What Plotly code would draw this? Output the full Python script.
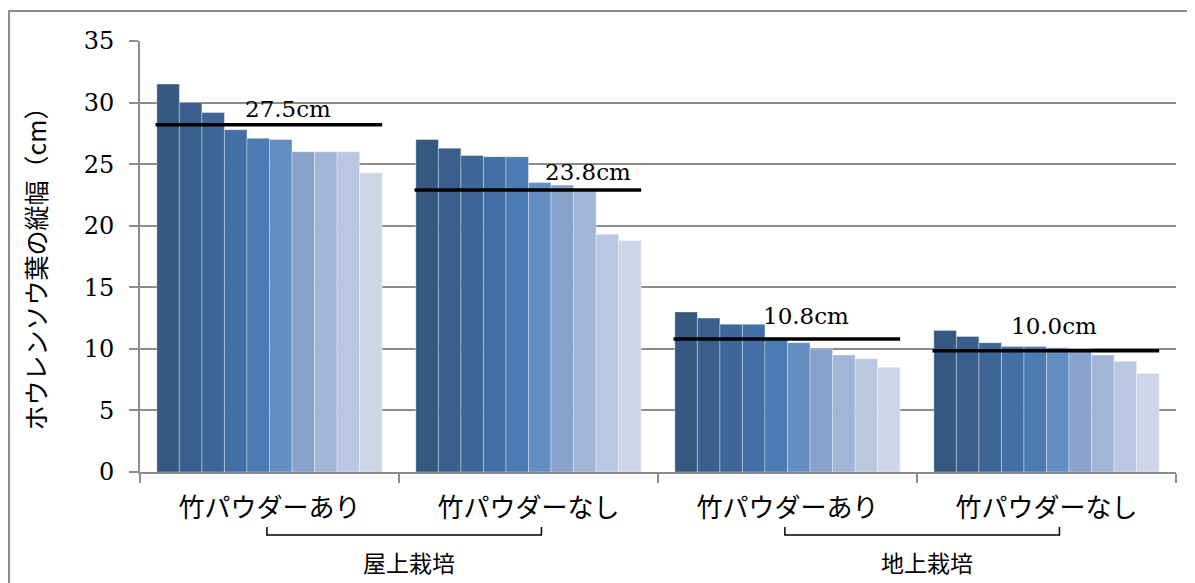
import plotly.graph_objects as go

categories = ['竹パウダーあり', '竹パウダーなし', '竹パウダーあり', '竹パウダーなし']
groups = ['屋上栽培', '地上栽培']
# values per category, sorted plant ranks (10 plants each)
g_roof_with = [31.5, 30.0, 29.2, 27.8, 27.1, 27.0, 26.0, 26.0, 26.0, 24.3]
g_roof_without = [27.0, 26.3, 25.7, 25.6, 25.6, 23.5, 23.3, 22.9, 19.3, 18.8]
g_ground_with = [13.0, 12.5, 12.0, 12.0, 10.9, 10.5, 10.0, 9.5, 9.2, 8.5]
g_ground_without = [11.5, 11.0, 10.5, 10.2, 10.2, 10.1, 10.0, 9.5, 9.0, 8.0]
mean_labels = ['27.5cm', '23.8cm', '10.8cm', '10.0cm']
mean_line = [28.2, 22.9, 10.8, 9.85]
y_ticks = [0, 5, 10, 15, 20, 25, 30, 35]

colors = ['#34587f', '#3a5e8d', '#3e6798', '#4270a6', '#4a7bb3',
          '#648dc2', '#87a2cb', '#a1b5d7', '#b9c7e0', '#cdd6e7']

data = [g_roof_with, g_roof_without, g_ground_with, g_ground_without]
xs = list(range(len(categories)))

fig = go.Figure()
for k in range(10):
    fig.add_trace(go.Bar(
        x=xs, y=[d[k] for d in data],
        marker=dict(color=colors[k], line=dict(color='rgba(255,255,255,0.35)', width=1)),
        showlegend=False, hoverinfo='y'))

GRAY = '#8c8c8c'
serif = 'DejaVu Serif'
cjk = 'Noto Sans CJK JP'

shapes = []
annotations = []
label_dx = [0.07, 0.23, 0.07, 0.03]
label_shift = [1, 3, 8, 10]
for i, (m, lab) in enumerate(zip(mean_line, mean_labels)):
    shapes.append(dict(type='line', xref='x', yref='y', x0=i - 0.44, x1=i + 0.435,
                       y0=m, y1=m, line=dict(color='black', width=3.5)))
    annotations.append(dict(x=i + label_dx[i], y=m, xref='x', yref='y', text=lab,
                            showarrow=False, yanchor='bottom', yshift=label_shift[i],
                            font=dict(family=serif, size=23, color='black')))

# brackets under the pairs
for j, g in enumerate(groups):
    a = 2 * j
    shapes.append(dict(type='path', xref='x', yref='paper',
                       path=f'M {a - 0.01},-0.1276 L {a - 0.01},-0.146 L {a + 1.05},-0.146 L {a + 1.05},-0.1276',
                       line=dict(color='black', width=1.5)))
    annotations.append(dict(x=a + 0.54, y=-0.2088, xref='x', yref='paper', text=g,
                            showarrow=False, xanchor='center', yanchor='middle',
                            font=dict(family=cjk, size=23, color='black')))

# y-axis title
annotations.append(dict(x=-0.101, y=0.487, xref='paper', yref='paper',
                        text='ホウレンソウ葉の縦幅（cm）', textangle=-90, showarrow=False,
                        xanchor='center', yanchor='middle',
                        font=dict(family=cjk, size=25, color='black')))

# outer frame
shapes.append(dict(type='rect', xref='paper', yref='paper', x0=-0.1264, x1=1.03,
                   y0=-0.35, y1=1.0696, line=dict(color=GRAY, width=2), layer='below'))

fig.update_layout(
    shapes=shapes, annotations=annotations,
    barmode='group', bargap=0.13, bargroupgap=0,
    width=1187, height=575,
    margin=dict(l=132, r=19, t=33, b=111),
    paper_bgcolor='white', plot_bgcolor='white',
    xaxis=dict(range=[-0.5, 3.5], tickvals=xs, ticktext=categories, ticks='',
               showline=True, linecolor=GRAY, linewidth=2, showgrid=False, zeroline=False,
               tickfont=dict(family=cjk, size=26, color='black'), ticklabelstandoff=12,
               minor=dict(ticks='outside', tick0=-0.5, dtick=1, ticklen=9, tickcolor=GRAY,
                          tickwidth=2, showgrid=False)),
    yaxis=dict(range=[0, 35], tickvals=y_ticks, ticks='outside', ticklen=9, tickcolor=GRAY,
               tickwidth=2, showline=True, linecolor=GRAY, linewidth=2,
               showgrid=True, gridcolor=GRAY, gridwidth=2, zeroline=False,
               tickfont=dict(family=serif, size=24, color='black'), ticklabelstandoff=10),
)

fig.write_html('out.html')
